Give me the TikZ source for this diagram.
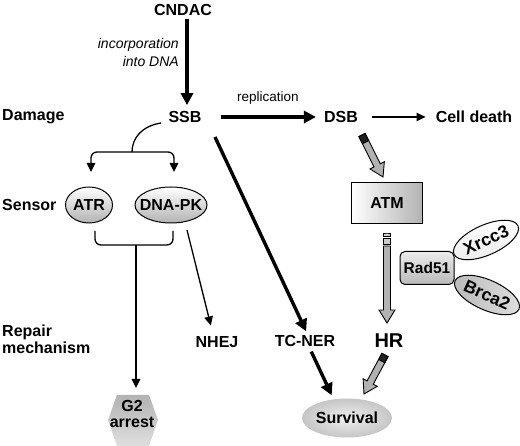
\documentclass[tikz,border=0pt]{standalone}
\usepackage{fontspec}
\setmainfont{Liberation Sans}
\usetikzlibrary{arrows.meta,shapes.geometric,calc}
\begin{document}
\begin{tikzpicture}[x=1pt,y=-1pt,
  lbl/.style={font=\fontsize{16}{17}\selectfont\bfseries, inner sep=2pt},
  ell/.style={ellipse, draw, line width=1pt, inner xsep=-10pt, inner ysep=0pt},
  thk/.style={line width=3.4pt, -{Triangle[length=12pt,width=12pt]}},
  thn/.style={line width=1.3pt, -{Triangle[length=9pt,width=8.5pt]}},
  fat/.style={draw=black, line width=0.9pt, fill=gray!60, line join=miter,
    to path={
      -- ($(\tikztostart)!3.5pt!90:(\tikztotarget)$)
      -- ($($(\tikztotarget)!13pt!(\tikztostart)$)!3.5pt!90:(\tikztotarget)$)
      -- ($($(\tikztotarget)!13pt!(\tikztostart)$)!8pt!90:(\tikztotarget)$)
      -- (\tikztotarget)
      -- ($($(\tikztotarget)!13pt!(\tikztostart)$)!8pt!-90:(\tikztotarget)$)
      -- ($($(\tikztotarget)!13pt!(\tikztostart)$)!3.5pt!-90:(\tikztotarget)$)
      -- ($(\tikztostart)!3.5pt!-90:(\tikztotarget)$)
      -- cycle}},
  fatbar/.style={draw=black, line width=0.8pt, fill=gray!60,
    to path={
      -- ($(\tikztostart)!3.5pt!90:(\tikztotarget)$)
      -- ($(\tikztotarget)!3.5pt!-90:(\tikztostart)$)
      -- ($(\tikztotarget)!3.5pt!90:(\tikztostart)$)
      -- ($(\tikztostart)!3.5pt!-90:(\tikztotarget)$)
      -- cycle}},
]
\useasboundingbox (0,0) rectangle (520,446);

% row labels
\node[lbl, anchor=west] (dmg) at (0,117) {Damage};
\node[lbl, anchor=west] (sens) at (0,205) {Sensor};
\node[lbl, anchor=west, align=left] (rep) at (0,339) {Repair\\mechanism};

% top
\node[lbl] (cndac) at (183,10) {CNDAC};
\node[font=\fontsize{14}{18}\selectfont\itshape, align=right, anchor=east, inner sep=0pt] (inc) at (179,52) {incorporation\\into DNA};
\node[lbl] (ssb) at (185,117) {SSB};
\node[lbl] (dsb) at (341,117) {DSB};
\node[lbl] (cell) at (474,117) {Cell death};
\node[font=\fontsize{13.5}{16}\selectfont] (repl) at (268,98) {replication};

\draw[thk, shorten <=1pt, shorten >=4pt] ([xshift=4pt]cndac.south) -- ([xshift=2pt]ssb.north);
\draw[thk, shorten <=17pt, shorten >=6pt] (ssb.east) -- (dsb.west);
\draw[thn, shorten <=12pt, shorten >=8pt] (dsb.east) -- (cell.west);

% sensors
\node[lbl, ell, minimum width=47pt, minimum height=36pt, top color=white, bottom color=gray!60] (atr) at (89,205) {ATR};
\node[lbl, ell, minimum width=72pt, minimum height=36pt, top color=white, bottom color=gray!60] (dnapk) at (171,205) {DNA-PK};

\coordinate (ssbc) at (161,123);
\coordinate (jn) at (132,152);
\coordinate (atrin) at (91,172);
\coordinate (dpin) at (174,172);
\draw[line width=1.3pt] (ssbc) .. controls (142,126) and (132,138) .. (jn);
\draw[thn, rounded corners=6pt] (jn) -| (atrin);
\draw[thn, rounded corners=6pt] (jn) -| (dpin);

% lower bracket
\coordinate (bl) at (95,231);
\coordinate (br) at (173,231);
\coordinate (bm) at (136,245);
\draw[line width=1.3pt, rounded corners=6pt] (bl) |- (bm) -| (br);

% G2 arrest
\coordinate (g2c) at (133,420);
\path[top color=gray!60, bottom color=gray!25] ($(g2c)+(-25,0)$) -- ($(g2c)+(-16,-25)$) -- ($(g2c)+(16,-25)$) -- ($(g2c)+(25,0)$) -- ($(g2c)+(16,26)$) -- ($(g2c)+(-16,26)$) -- cycle;
\node[lbl, align=center, font=\fontsize{16}{16}\selectfont\bfseries] (g2) at (132,414) {G2\\arrest};
\draw[thn] (bm) -- (bm |- 0,388);

% NHEJ
\node[lbl] (nhej) at (217,342) {NHEJ};
\coordinate (nh1) at (187,230);
\draw[thn, shorten >=9pt] (nh1) -- ([xshift=-4pt]nhej.north);

% TC-NER
\node[lbl] (tcner) at (305,341) {TC-NER};
\coordinate (tc1) at (215,137);
\draw[thk, shorten >=2pt] (tc1) -- ([xshift=2pt]tcner.north);

% Survival
\node[lbl, ell, draw=none, minimum width=90pt, minimum height=39pt, inner color=gray!12, outer color=gray!45, font=\fontsize{16}{16}\selectfont\bfseries] (surv) at (347,418) {Survival};
\draw[thk, shorten <=3pt, shorten >=3pt] ([xshift=5pt]tcner.south) -- ([xshift=-14pt]surv.north);

% HR
\node[lbl, font=\fontsize{20}{20}\selectfont\bfseries] (hr) at (389,341) {HR};

% ATM
\node[lbl, draw, line width=1pt, minimum width=71pt, minimum height=41pt, left color=white, right color=gray!60] (atm) at (387,203) {ATM};

% fat arrows
\coordinate (f1s) at (362,135);
\coordinate (f1e) at (383,177);
\coordinate (f1m) at ($(f1s)!8pt!(f1e)$);
\draw[fat] (f1s) to (f1e);
\draw[fatbar, fill=gray!25!black] (f1s) to (f1m);

\coordinate (f2a) at (387,233);
\coordinate (f2b) at (387,236.5);
\coordinate (f2c) at (387,238.5);
\coordinate (f2d) at (387,244);
\coordinate (f2s) at (387,246);
\coordinate (f2e) at (387,323);
\draw[fatbar, fill=gray!40] (f2a) to (f2b);
\draw[fatbar, fill=gray!40] (f2c) to (f2d);
\draw[fat] (f2s) to (f2e);

\coordinate (f3s) at (385,355);
\coordinate (f3e) at (364,394);
\coordinate (f3m) at ($(f3s)!7pt!(f3e)$);
\draw[fat] (f3s) to (f3e);
\draw[fatbar, fill=gray!25!black] (f3s) to (f3m);

% Rad51 complex
\node[lbl, draw, line width=1pt, rounded corners=5pt, minimum width=54pt, minimum height=33pt, top color=gray!15, bottom color=gray!55, font=\fontsize{15.5}{16}\selectfont\bfseries] (rad51) at (427,268) {Rad51};
\node[lbl, ell, rotate=24, minimum width=70pt, minimum height=30pt, top color=white, bottom color=gray!15, font=\fontsize{17.5}{17}\selectfont\bfseries] (xrcc3) at (486,240) {Xrcc3};
\node[lbl, ell, rotate=-24, minimum width=70pt, minimum height=30pt, left color=gray!55, right color=gray!25, font=\fontsize{17.5}{17}\selectfont\bfseries] (brca2) at (487,295) {Brca2};
\end{tikzpicture}
\end{document}
